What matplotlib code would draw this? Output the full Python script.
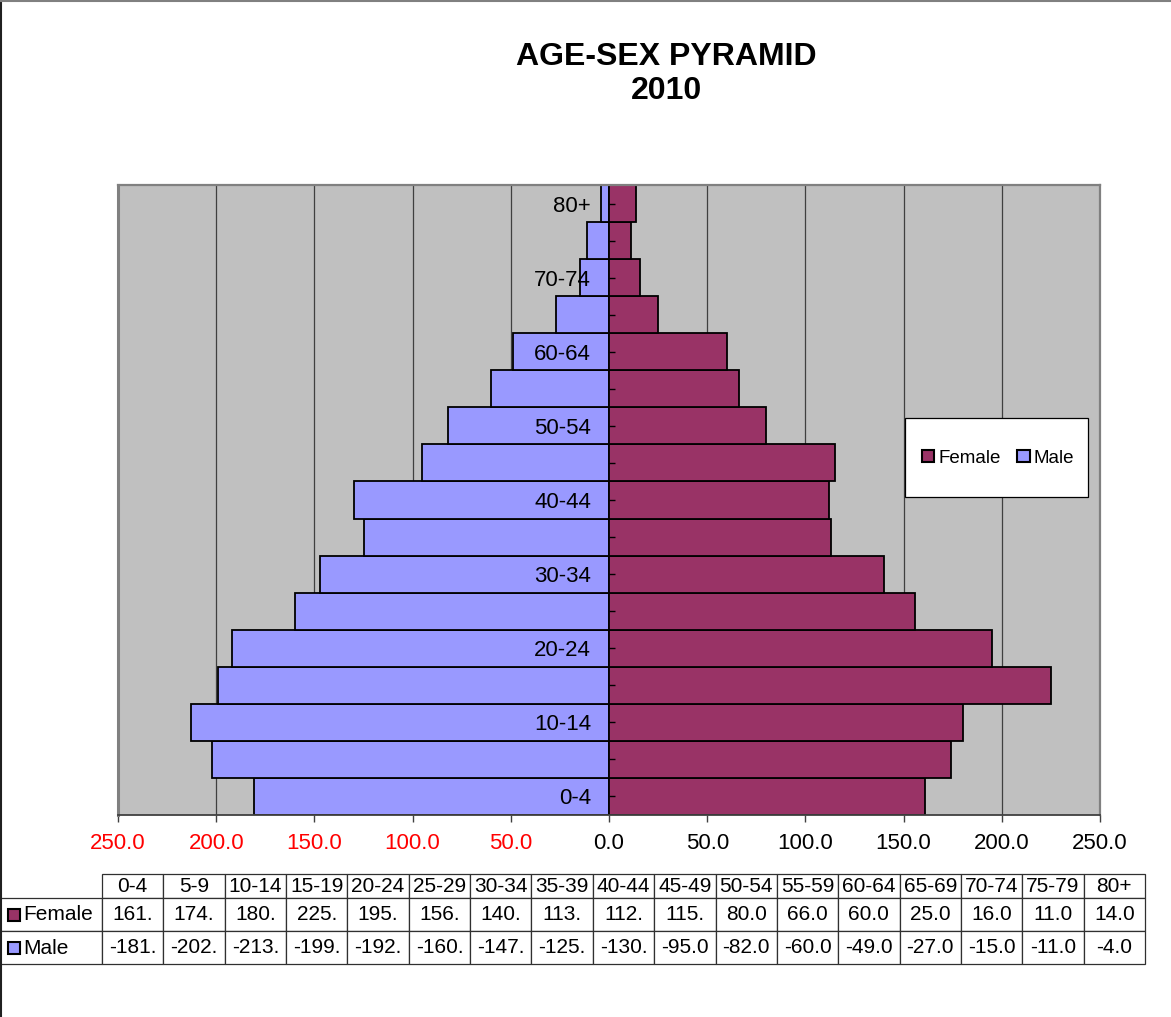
import numpy as np
import matplotlib.pyplot as plt
from matplotlib.patches import Patch, Rectangle
from matplotlib.lines import Line2D

plt.rcParams['font.family'] = ['Liberation Sans', 'DejaVu Sans']

age_groups = ['0-4', '5-9', '10-14', '15-19', '20-24', '25-29', '30-34', '35-39',
              '40-44', '45-49', '50-54', '55-59', '60-64', '65-69', '70-74', '75-79', '80+']
female = [161, 174, 180, 225, 195, 156, 140, 113, 112, 115, 80, 66, 60, 25, 16, 11, 14]
male = [-181, -202, -213, -199, -192, -160, -147, -125, -130, -95, -82, -60, -49, -27, -15, -11, -4]
x_ticks = [-250, -200, -150, -100, -50, 0, 50, 100, 150, 200, 250]
series_names = ['Female', 'Male']

female_color = '#993366'
male_color = '#9999FF'

W, H = 1171, 1017


def fx(px):
    return px / W


def fy(py):
    return 1 - py / H


fig = plt.figure(figsize=(W / 100, H / 100), dpi=100)

# main plot area
ax = fig.add_axes([fx(118), fy(815), fx(1100) - fx(118), fy(185) - fy(815)])
ax.set_facecolor('#C0C0C0')
y = np.arange(len(age_groups))
ax.barh(y, male, height=1.0, color=male_color, edgecolor='black', linewidth=1.3, zorder=1)
ax.barh(y, female, height=1.0, color=female_color, edgecolor='black', linewidth=1.3, zorder=1)

for v in x_ticks[1:-1]:
    ax.axvline(v, color='#404040', lw=0.9, zorder=0.5)

ax.set_xlim(-250, 250)
ax.set_ylim(-0.5, len(age_groups) - 0.5)

ax.spines['left'].set_position(('data', 0))
ax.spines['left'].set_color('none')
for s in ['top', 'right']:
    ax.spines[s].set_color('#808080')
    ax.spines[s].set_linewidth(1.6)
ax.spines['bottom'].set_color('#404040')
ax.spines['bottom'].set_linewidth(1.3)
ax.plot([0, 0], [0, 1], transform=ax.transAxes, color='#808080', lw=2.2, clip_on=False)

ax.set_yticks(y)
ax.set_yticklabels([g if i % 2 == 0 else '' for i, g in enumerate(age_groups)], fontsize=16)
ax.tick_params(axis='y', direction='in', length=4, width=1, color='black', pad=13)

ax.set_xticks(x_ticks)
ax.set_xticklabels([f"{abs(v):.1f}" for v in x_ticks], fontsize=16)
ax.tick_params(axis='x', direction='out', length=5, width=1, color='#404040', pad=8)
for v, lab in zip(x_ticks, ax.get_xticklabels()):
    if v < 0:
        lab.set_color('red')

# title
fig.text(fx(666), fy(74), 'AGE-SEX PYRAMID\n2010', ha='center', va='center',
         fontsize=23, fontweight='bold', linespacing=1.15)

# legend box
fig.patches.append(Rectangle((fx(905), fy(497)), fx(1088) - fx(905), fy(418) - fy(497),
                             transform=fig.transFigure, facecolor='white',
                             edgecolor='black', lw=0.9, zorder=3))
handles = [Patch(facecolor=female_color, edgecolor='black', lw=1.5, label='Female'),
           Patch(facecolor=male_color, edgecolor='black', lw=1.5, label='Male')]
fig.legend(handles=handles, loc='center', bbox_to_anchor=(fx(998), fy(458)),
           frameon=False, ncol=2, fontsize=13.5, handlelength=0.65, handleheight=0.65,
           handletextpad=0.2, columnspacing=0.9)


# data table
def fmt(v):
    s = f"{v:.1f}"
    return s[:5] if v < 0 else s[:4]


tab_w, tab_h = 1145, 90          # table size in pixels
label_w, col_w = 102, 61.35
head_h, row_h = 24, 33

tax = fig.add_axes([0, fy(964), fx(tab_w), tab_h / H])
tax.axis('off')
cell_text = [[fmt(v) for v in female], [fmt(v) for v in male]]
tbl = tax.table(cellText=cell_text, colLabels=age_groups, cellLoc='center',
                bbox=[label_w / tab_w, 0, 1 - label_w / tab_w, 1])
for i in range(1, len(series_names) + 1):
    tbl.add_cell(i, -1, width=label_w / tab_w, height=row_h / tab_h, text='')
tbl.auto_set_font_size(False)
tbl.set_fontsize(15)
for (r, c), cell in tbl.get_celld().items():
    cell.set_width((label_w if c == -1 else col_w) / tab_w)
    cell.set_height((head_h if r == 0 else row_h) / tab_h)
    cell.set_edgecolor('#303030')
    cell.set_linewidth(0.9)

row_colors = [female_color, male_color]
for name, col, yc in zip(series_names, row_colors, [915, 948]):
    fig.patches.append(Rectangle((fx(8), fy(yc + 6)), fx(12), 12 / H,
                                 transform=fig.transFigure, facecolor=col,
                                 edgecolor='black', lw=1.5, zorder=3))
    fig.text(fx(23), fy(yc), name, ha='left', va='center', fontsize=15)

# outer chart border (left and top visible)
fig.add_artist(Line2D([0.001, 0.001], [0, 1], color='#202020', lw=1.5, transform=fig.transFigure))
fig.add_artist(Line2D([0, 1], [0.999, 0.999], color='#808080', lw=1.5, transform=fig.transFigure))

fig.savefig('out.png', dpi=100)
